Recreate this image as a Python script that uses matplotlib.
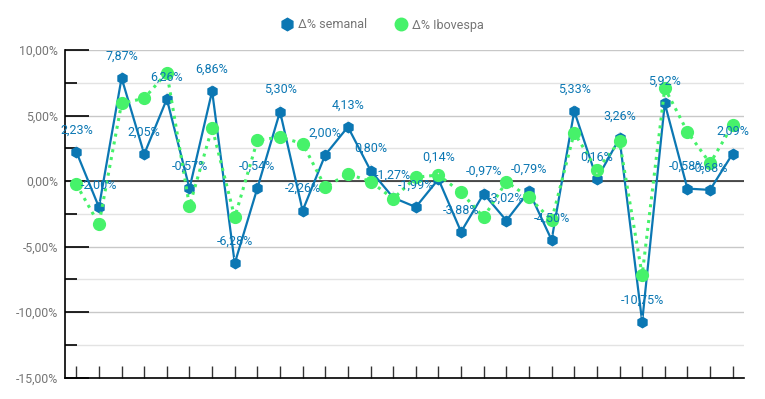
import matplotlib
matplotlib.use("Agg")
import matplotlib.pyplot as plt
from matplotlib.lines import Line2D
from matplotlib.ticker import MultipleLocator, FuncFormatter

plt.rcParams['font.family'] = ['Roboto', 'DejaVu Sans']

semanal = [2.23, -2.00, 7.87, 2.05, 6.26, -0.57, 6.86, -6.28, -0.54, 5.30,
           -2.26, 2.00, 4.13, 0.80, -1.27, -1.99, 0.14, -3.88, -0.97, -3.02,
           -0.79, -4.50, 5.33, 0.16, 3.26, -10.75, 5.92, -0.58, -0.68, 2.09]
ibovespa = [-0.25, -3.30, 5.93, 6.31, 8.27, -1.91, 4.07, -2.77, 3.10, 3.36,
            2.85, -0.46, 0.55, -0.05, -1.35, 0.28, 0.46, -0.87, -2.77, -0.05,
            -1.25, -3.00, 3.69, 0.84, 3.03, -7.18, 7.10, 3.76, 1.35, 4.27]
series_names = ["Δ% semanal", "Δ% Ibovespa"]

BLUE = '#0b77b3'
GREEN = '#46f26a'
GRAY = '#757575'

fig = plt.figure(figsize=(7.65, 3.99), dpi=100)
ax = fig.add_axes([65/765, 1-377.5/399, (744-65)/765, (377.5-50)/399])

x = list(range(len(semanal)))
ax.set_xlim(-0.5, len(semanal) - 0.5)
ax.set_ylim(-15, 10)

# grid
ax.set_axisbelow(True)
ax.yaxis.set_major_locator(MultipleLocator(5))
ax.yaxis.set_minor_locator(MultipleLocator(2.5))
ax.grid(which='major', axis='y', color='#c8c8c8', lw=1)
ax.grid(which='minor', axis='y', color='#e3e3e3', lw=1)
ax.axhline(0, color='#222222', lw=1.1, zorder=2)

for s in ['top', 'right']:
    ax.spines[s].set_visible(False)
for s in ['left', 'bottom']:
    ax.spines[s].set_color('black')
    ax.spines[s].set_linewidth(1.2)

ax.yaxis.set_major_formatter(FuncFormatter(lambda v, p: f"{v:.2f}".replace('.', ',') + '%'))
ax.tick_params(axis='y', which='major', direction='in', length=17.3, width=1.2,
               color='black', labelcolor=GRAY, labelsize=8.8, pad=5)
ax.tick_params(axis='y', which='minor', direction='in', length=8.6, width=1.2, color='black')
ax.set_xticks(x)
ax.tick_params(axis='x', which='major', direction='in', length=8.6, width=1,
               color='#333333', labelbottom=False)

ax.plot(x, semanal, color=BLUE, lw=1.6, marker='h', ms=7.5, mec=BLUE, mfc=BLUE, zorder=4)
ax.plot(x, ibovespa, color=GREEN, lw=2.2, ls=(0, (1, 1.6)), marker='o', ms=8.5,
        mec=GREEN, mfc=GREEN, zorder=5)

for i, v in zip(x, semanal):
    lab = f"{v:.2f}".replace('.', ',') + '%'
    ax.annotate(lab, xy=(i, v), xytext=(0, 22), textcoords='offset pixels',
                ha='center', va='center', color=BLUE, fontsize=9, zorder=6,
                arrowprops=dict(arrowstyle='-', color='#e2e2e2', lw=1,
                                shrinkA=5, shrinkB=4))

handles = [Line2D([], [], ls='none', marker='h', ms=9, color=BLUE),
           Line2D([], [], ls='none', marker='o', ms=9, color=GREEN)]
fig.legend(handles, series_names, loc='center', bbox_to_anchor=(382/765, 1-25/399),
           ncol=2, frameon=False, fontsize=9, labelcolor=GRAY,
           handletextpad=0.4, columnspacing=2.2, handlelength=1.0)

fig.savefig('out.png', dpi=100)
